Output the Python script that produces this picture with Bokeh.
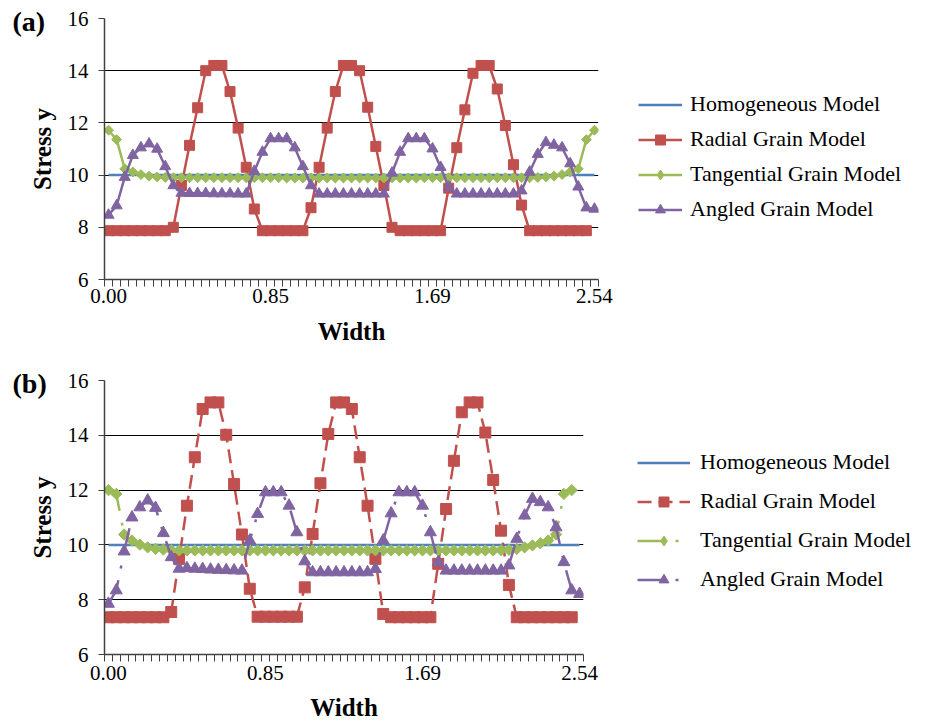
import numpy as np
from bokeh.plotting import figure
from bokeh.models import Range1d, FixedTicker, Legend, LegendItem
from bokeh.layouts import row
from bokeh.embed import file_html
from bokeh.resources import INLINE

FONT = "Liberation Serif"

# ---------------- data ----------------
x_tick_positions = [0, 20, 40, 60]
x_tick_labels = ["0.00", "0.85", "1.69", "2.54"]
y_ticks = [6, 8, 10, 12, 14, 16]
series_names = ["Homogeneous Model", "Radial Grain Model",
                "Tangential Grain Model", "Angled Grain Model"]
colors = ["#4F81BD", "#C0504D", "#9BBB59", "#8064A2"]

# chart (a)
a_homogeneous = [10.0] * 61
a_radial = [7.87, 7.87, 7.87, 7.87, 7.87, 7.87, 7.87, 7.87,
            8.0, 9.6, 11.14, 12.58, 14.0, 14.2, 14.2, 13.2, 11.8, 10.3, 8.7,
            7.87, 7.87, 7.87, 7.87, 7.87, 7.87,
            8.75, 10.3, 11.8, 13.2, 14.2, 14.2, 14.0, 12.6, 11.1, 9.6, 8.0,
            7.87, 7.87, 7.87, 7.87, 7.87, 7.87,
            9.5, 11.05, 12.5, 13.9, 14.2, 14.2, 13.3, 11.9, 10.4, 8.85,
            7.87, 7.87, 7.87, 7.87, 7.87, 7.87, 7.87, 7.87]
a_tangential = [11.72, 11.36, 10.24, 10.12, 10.02, 9.96, 9.93, 9.91,
                9.9, 9.9, 9.9, 9.9, 9.9, 9.9, 9.9, 9.9, 9.9, 9.9, 9.9,
                9.9, 9.9, 9.9, 9.89, 9.89, 9.89, 9.89, 9.89, 9.89, 9.89, 9.89,
                9.89, 9.89, 9.89, 9.89, 9.89, 9.89, 9.89, 9.89, 9.89, 9.9,
                9.9, 9.9, 9.9, 9.9, 9.9, 9.9, 9.9, 9.9, 9.9, 9.9, 9.9, 9.9,
                9.9, 9.91, 9.93, 9.96, 10.02, 10.12, 10.24, 11.36, 11.72]
a_angled = [8.47, 8.83, 9.92, 10.76, 11.05, 11.2, 11.0, 10.33, 9.6,
            9.31, 9.3, 9.3, 9.3, 9.29, 9.29, 9.29, 9.28, 9.28,
            10.15, 10.88, 11.4, 11.4, 11.4, 11.05, 10.33, 9.6,
            9.28, 9.28, 9.28, 9.28, 9.28, 9.28, 9.28, 9.28, 9.28,
            10.08, 10.88, 11.4, 11.4, 11.4, 11.01, 10.3, 9.54,
            9.28, 9.28, 9.28, 9.28, 9.28, 9.28, 9.28, 9.28,
            9.4, 10.12, 10.8, 11.25, 11.15, 11.05, 10.44, 9.55, 8.75, 8.7]

# chart (b)
b_homogeneous = [10.0] * 61
b_radial = [7.36, 7.36, 7.36, 7.36, 7.36, 7.36, 7.36, 7.36,
            7.55, 9.49, 11.43, 13.2, 14.96, 15.2, 15.2, 14.02, 12.22, 10.38, 8.4,
            7.38, 7.38, 7.38, 7.38, 7.38, 7.38,
            8.45, 10.4, 12.25, 14.05, 15.2, 15.2, 14.96, 13.2, 11.43, 9.49, 7.48,
            7.36, 7.36, 7.36, 7.36, 7.36, 7.36,
            9.31, 11.31, 13.07, 14.84, 15.2, 15.2, 14.1, 12.37, 10.52, 8.54,
            7.36, 7.36, 7.36, 7.36, 7.36, 7.36, 7.36, 7.36]
b_tangential = [12.0, 11.86, 10.38, 10.16, 10.01, 9.91, 9.86, 9.83,
                9.81, 9.8, 9.8, 9.8, 9.8, 9.8, 9.8, 9.8, 9.8, 9.8, 9.8,
                9.8, 9.8, 9.8, 9.8, 9.8, 9.8, 9.8, 9.8, 9.8, 9.8, 9.8,
                9.8, 9.8, 9.8, 9.8, 9.8, 9.8, 9.8, 9.8, 9.8, 9.8,
                9.8, 9.8, 9.8, 9.8, 9.8, 9.8, 9.8, 9.8, 9.8, 9.8, 9.81, 9.82,
                9.85, 9.91, 9.98, 10.06, 10.16, 10.38, 11.86, 12.0]
b_angled = [7.85, 8.34, 9.76, 11.0, 11.37, 11.62, 11.35, 10.43, 9.55, 9.13,
            9.15, 9.13, 9.12, 9.1, 9.09, 9.08, 9.07, 9.06,
            10.16, 11.13, 11.92, 11.92, 11.92, 11.43, 10.46, 9.4,
            9.0, 9.0, 9.0, 9.0, 9.0, 9.0, 9.0, 9.0,
            9.12, 10.16, 11.15, 11.92, 11.92, 11.92, 11.43, 10.46, 9.37,
            9.06, 9.06, 9.06, 9.06, 9.06, 9.06, 9.06, 9.06,
            9.25, 10.22, 11.07, 11.68, 11.56, 11.37, 10.64, 9.37, 8.34, 8.21]


def style_series(target, xs, ys, dash, sizes, legend_swatch=False):
    """Draw the four series; legend_swatch=True uses an Excel-like diamond glyph."""
    homog, radial, tang, angled = ys
    rs = []
    rs.append([target.line(xs[0], homog, line_color=colors[0], line_width=2.5)])
    rl = target.line(xs[1], radial, line_color=colors[1], line_width=2.5,
                     line_dash=dash[1])
    rm = target.scatter(xs[1], radial, marker="square", size=sizes[0],
                        fill_color=colors[1], line_color=colors[1])
    rs.append([rl, rm])
    tl = target.line(xs[2], tang, line_color=colors[2], line_width=2.5,
                     line_dash=dash[2])
    if legend_swatch:
        tm = target.scatter(xs[2], tang, marker="diamond", size=sizes[1] + 5,
                            fill_color=colors[2], line_color=colors[2])
    else:
        tm = target.scatter(xs[2], tang, marker="square", angle=np.pi / 4,
                            size=sizes[1], fill_color=colors[2],
                            line_color=colors[2])
    rs.append([tl, tm])
    al = target.line(xs[3], angled, line_color=colors[3], line_width=2.5,
                     line_dash=dash[3])
    am = target.scatter(xs[3], angled, marker="triangle", size=sizes[2],
                        fill_color=colors[3], line_color=colors[3])
    rs.append([al, am])
    return rs


def make_chart(tag, series, width, height, border_top, border_bottom,
               dashes, sizes, cfg):
    p = figure(width=width, height=height, output_backend="svg",
               toolbar_location=None,
               x_range=Range1d(-0.5, 60.5), y_range=Range1d(6, 16),
               min_border_left=104, min_border_right=20,
               min_border_top=border_top, min_border_bottom=border_bottom)
    p.outline_line_color = None
    p.background_fill_color = "white"

    # panel tag "(a)" / "(b)" as the title, pulled down beside the top gridline
    p.title.text = tag
    p.title.align = "left"
    p.title.offset = -92
    p.title.standoff = -36
    p.title.vertical_align = "bottom"
    p.title.text_font = FONT
    p.title.text_font_size = "28px"
    p.title.text_font_style = "bold"
    p.title.text_color = "black"

    # axes
    p.xaxis.ticker = FixedTicker(ticks=x_tick_positions,
                                 minor_ticks=[k - 0.5 for k in range(62)])
    p.xaxis.major_label_overrides = dict(zip(x_tick_positions, x_tick_labels))
    p.xaxis.major_tick_line_color = None
    p.xaxis.major_tick_out = 7
    p.xaxis.minor_tick_out = 7
    p.xaxis.minor_tick_in = 0
    p.xaxis.minor_tick_line_color = "#404040"
    p.xaxis.minor_tick_line_width = 1
    p.xaxis.major_label_standoff = cfg["xtick_standoff"]
    p.xaxis.axis_label = "Width"
    p.xaxis.axis_label_standoff = cfg["xlabel_standoff"]

    p.yaxis.ticker = FixedTicker(ticks=y_ticks)
    p.yaxis.major_tick_out = 6
    p.yaxis.major_tick_in = 0
    p.yaxis.minor_tick_line_color = None
    p.yaxis.major_tick_line_color = "#404040"
    p.yaxis.major_label_standoff = 10
    p.yaxis.axis_label = "Stress y"
    p.yaxis.axis_label_standoff = 9

    for ax in (p.xaxis[0], p.yaxis[0]):
        ax.axis_line_color = "#404040"
        ax.axis_line_width = 1.5
        ax.major_label_text_font = FONT
        ax.major_label_text_font_size = "21px"
        ax.major_label_text_color = "black"
        ax.axis_label_text_font = FONT
        ax.axis_label_text_font_size = "25px"
        ax.axis_label_text_font_style = "bold"
        ax.axis_label_text_color = "black"

    p.xgrid.visible = False
    p.ygrid.ticker = FixedTicker(ticks=y_ticks)
    p.ygrid.grid_line_color = "black"
    p.ygrid.grid_line_width = 1

    xs = [list(range(len(s))) for s in series]
    style_series(p, xs, series, dashes, sizes)

    # legend lives in its own small figure to the right of the chart; the
    # series are drawn there too, but outside its visible range, so that only
    # the legend swatches show
    leg = figure(width=930 - width, height=height, output_backend="svg",
                 toolbar_location=None, x_axis_location=None,
                 y_axis_location=None, x_range=Range1d(0, 1),
                 y_range=Range1d(100, 101), min_border_left=0,
                 min_border_right=0, min_border_top=border_top,
                 min_border_bottom=border_bottom)
    leg.outline_line_color = None
    leg.xgrid.visible = False
    leg.ygrid.visible = False
    swatches = style_series(leg, xs, series, dashes, sizes, legend_swatch=True)
    items = [LegendItem(label=name, renderers=rs)
             for name, rs in zip(series_names, swatches)]
    legend = Legend(items=items, location=cfg["loc"],
                    orientation="vertical", padding=0, margin=0,
                    spacing=cfg["spacing"],
                    glyph_width=cfg["glyph_width"],
                    glyph_height=25, label_height=25,
                    label_standoff=cfg["standoff"],
                    label_text_font=FONT, label_text_font_size="22px",
                    label_text_color="black",
                    border_line_color=None, background_fill_alpha=0)
    leg.add_layout(legend, "center")
    return row(p, leg)


r1 = make_chart("(a)", (a_homogeneous, a_radial, a_tangential, a_angled),
                width=618, height=350, border_top=18, border_bottom=71,
                dashes=["solid", "solid", "solid", "solid"],
                sizes=[10, 7, 11],
                cfg=dict(loc=(20, 57), spacing=9, glyph_width=44, standoff=8,
                         xtick_standoff=2, xlabel_standoff=12))

r2 = make_chart("(b)", (b_homogeneous, b_radial, b_tangential, b_angled),
                width=603, height=374, border_top=30, border_bottom=70,
                dashes=["solid", "14 7", "26 12 3 12", "26 12 3 12"],
                sizes=[11, 8, 12],
                cfg=dict(loc=(34, 62), spacing=13, glyph_width=53, standoff=10,
                         xtick_standoff=4, xlabel_standoff=11))

open("out.html", "w").write(file_html([r1, r2], INLINE))
